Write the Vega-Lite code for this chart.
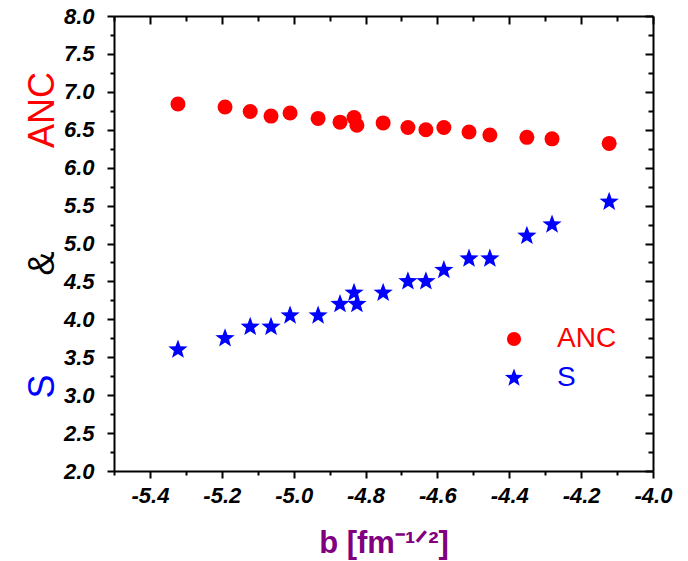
{
  "$schema": "https://vega.github.io/schema/vega-lite/v6.json",
  "width": 539,
  "height": 455,
  "autosize": "none",
  "padding": {"left": 114, "top": 16, "right": 35, "bottom": 90},
  "background": "white",
  "config": {
    "view": {"stroke": null},
    "axis": {"grid": false, "domainColor": "black", "domainWidth": 2, "tickColor": "black", "tickWidth": 2, "labelFont": "Liberation Sans", "titleFont": "Liberation Sans"}
  },
  "data": {
    "values": [
      {"b": -5.322, "v": 6.84, "series": "ANC"},
      {"b": -5.191, "v": 6.80, "series": "ANC"},
      {"b": -5.121, "v": 6.74, "series": "ANC"},
      {"b": -5.063, "v": 6.68, "series": "ANC"},
      {"b": -5.010, "v": 6.72, "series": "ANC"},
      {"b": -4.932, "v": 6.65, "series": "ANC"},
      {"b": -4.871, "v": 6.60, "series": "ANC"},
      {"b": -4.832, "v": 6.66, "series": "ANC"},
      {"b": -4.824, "v": 6.56, "series": "ANC"},
      {"b": -4.751, "v": 6.59, "series": "ANC"},
      {"b": -4.682, "v": 6.53, "series": "ANC"},
      {"b": -4.632, "v": 6.50, "series": "ANC"},
      {"b": -4.582, "v": 6.53, "series": "ANC"},
      {"b": -4.512, "v": 6.47, "series": "ANC"},
      {"b": -4.454, "v": 6.43, "series": "ANC"},
      {"b": -4.351, "v": 6.40, "series": "ANC"},
      {"b": -4.281, "v": 6.38, "series": "ANC"},
      {"b": -4.122, "v": 6.32, "series": "ANC"},
      {"b": -5.322, "v": 3.60, "series": "S"},
      {"b": -5.191, "v": 3.75, "series": "S"},
      {"b": -5.121, "v": 3.90, "series": "S"},
      {"b": -5.063, "v": 3.90, "series": "S"},
      {"b": -5.010, "v": 4.05, "series": "S"},
      {"b": -4.932, "v": 4.05, "series": "S"},
      {"b": -4.871, "v": 4.20, "series": "S"},
      {"b": -4.832, "v": 4.35, "series": "S"},
      {"b": -4.824, "v": 4.20, "series": "S"},
      {"b": -4.751, "v": 4.35, "series": "S"},
      {"b": -4.682, "v": 4.50, "series": "S"},
      {"b": -4.632, "v": 4.50, "series": "S"},
      {"b": -4.582, "v": 4.65, "series": "S"},
      {"b": -4.512, "v": 4.80, "series": "S"},
      {"b": -4.454, "v": 4.80, "series": "S"},
      {"b": -4.351, "v": 5.10, "series": "S"},
      {"b": -4.281, "v": 5.25, "series": "S"},
      {"b": -4.122, "v": 5.55, "series": "S"}
    ]
  },
  "resolve": {"axis": {"x": "independent", "y": "independent"}},
  "layer": [
    {
      "mark": {"type": "point", "filled": true, "opacity": 1, "strokeWidth": 0, "size": 225},
      "encoding": {
        "x": {
          "field": "b", "type": "quantitative",
          "scale": {"domain": [-5.5, -4.0], "nice": false, "zero": false},
          "axis": {
            "orient": "bottom",
            "values": [-5.4, -5.2, -5.0, -4.8, -4.6, -4.4, -4.2, -4.0],
            "labelExpr": "replace(format(datum.value, '.1f'), '\u2212', '-')",
            "labelFontSize": 22, "labelFontWeight": "bold", "labelFontStyle": "italic", "labelColor": "black",
            "labelPadding": 7, "tickSize": 7, "labelFlush": false, "labelOverlap": false,
            "title": "b [fm\u207b\u00b9\u141f\u00b2]",
            "titleColor": "#800080", "titleFontSize": 31, "titleFontWeight": "bold",
            "titleX": 269.5, "titleY": 81, "titleAlign": "center", "titleBaseline": "alphabetic"
          }
        },
        "y": {
          "field": "v", "type": "quantitative",
          "scale": {"domain": [2, 8], "nice": false, "zero": false},
          "axis": {
            "orient": "left",
            "values": [2, 2.5, 3, 3.5, 4, 4.5, 5, 5.5, 6, 6.5, 7, 7.5, 8],
            "format": ".1f",
            "labelFontSize": 22, "labelFontWeight": "bold", "labelFontStyle": "italic", "labelColor": "black",
            "labelPadding": 13, "tickSize": 7, "labelFlush": false, "labelOverlap": false,
            "title": "ANC", "titleColor": "#ff0000", "titleFontSize": 36, "titleFontWeight": "normal",
            "titleAngle": 270, "titleX": -61, "titleY": 93.5, "titleAlign": "center", "titleBaseline": "alphabetic"
          }
        },
        "color": {
          "field": "series", "type": "nominal",
          "scale": {"domain": ["ANC", "S"], "range": ["#ff0000", "#0000ff"]},
          "legend": {
            "title": null, "orient": "none", "legendX": 386, "legendY": 309,
            "padding": 0, "symbolSize": 200, "labelFontSize": 28, "labelFont": "Liberation Sans",
            "labelOffset": 29, "rowPadding": 11,
            "labelColor": {"expr": "datum.label == 'ANC' ? '#ff0000' : '#0000ff'"}
          }
        },
        "shape": {
          "field": "series", "type": "nominal",
          "scale": {"domain": ["ANC", "S"], "range": ["circle", "M0,-1.35L0.331,-0.455L1.284,-0.418L0.535,0.174L0.794,1.093L0,0.5625L-0.794,1.093L-0.535,0.174L-1.284,-0.418L-0.331,-0.455Z"]},
          "legend": {
            "title": null, "orient": "none", "legendX": 386, "legendY": 309,
            "padding": 0, "symbolSize": 200, "labelFontSize": 28, "labelFont": "Liberation Sans",
            "labelOffset": 29, "rowPadding": 11,
            "labelColor": {"expr": "datum.label == 'ANC' ? '#ff0000' : '#0000ff'"}
          }
        }
      }
    },
    {
      "mark": {"type": "point", "opacity": 0},
      "encoding": {
        "x": {"field": "b", "type": "quantitative",
          "axis": {"orient": "bottom", "values": [-5.5, -5.3, -5.1, -4.9, -4.7, -4.5, -4.3, -4.1], "labels": false, "domain": false, "tickSize": 4, "title": null}},
        "y": {"field": "v", "type": "quantitative",
          "axis": {"orient": "left", "values": [2.25, 2.75, 3.25, 3.75, 4.25, 4.75, 5.25, 5.75, 6.25, 6.75, 7.25, 7.75], "labels": false, "domain": false, "tickSize": 4,
            "title": "S", "titleColor": "#0000ff", "titleFontSize": 36, "titleFontWeight": "normal",
            "titleAngle": 270, "titleX": -61, "titleY": 370, "titleAlign": "center", "titleBaseline": "alphabetic"}}
      }
    },
    {
      "mark": {"type": "point", "opacity": 0},
      "encoding": {
        "x": {"field": "b", "type": "quantitative",
          "axis": {"orient": "top", "values": [-5.4, -5.2, -5.0, -4.8, -4.6, -4.4, -4.2, -4.0], "labels": false, "domain": true, "tickSize": -8, "title": null}},
        "y": {"field": "v", "type": "quantitative",
          "axis": {"orient": "left", "ticks": false, "labels": false, "domain": false,
            "title": "&", "titleColor": "black", "titleFontSize": 36, "titleFontWeight": "normal",
            "titleAngle": 270, "titleX": -61, "titleY": 247, "titleAlign": "center", "titleBaseline": "alphabetic"}}
      }
    },
    {
      "mark": {"type": "point", "opacity": 0},
      "encoding": {
        "x": {"field": "b", "type": "quantitative",
          "axis": {"orient": "top", "values": [-5.5, -5.3, -5.1, -4.9, -4.7, -4.5, -4.3, -4.1], "labels": false, "domain": false, "tickSize": -5, "title": null}},
        "y": {"field": "v", "type": "quantitative",
          "axis": {"orient": "right", "values": [2, 2.5, 3, 3.5, 4, 4.5, 5, 5.5, 6, 6.5, 7, 7.5, 8], "labels": false, "domain": true, "tickSize": -8, "title": null}}
      }
    },
    {
      "mark": {"type": "point", "opacity": 0},
      "encoding": {
        "x": {"field": "b", "type": "quantitative", "axis": null},
        "y": {"field": "v", "type": "quantitative",
          "axis": {"orient": "right", "values": [2.25, 2.75, 3.25, 3.75, 4.25, 4.75, 5.25, 5.75, 6.25, 6.75, 7.25, 7.75], "labels": false, "domain": false, "tickSize": -5, "title": null}}
      }
    }
  ]
}
